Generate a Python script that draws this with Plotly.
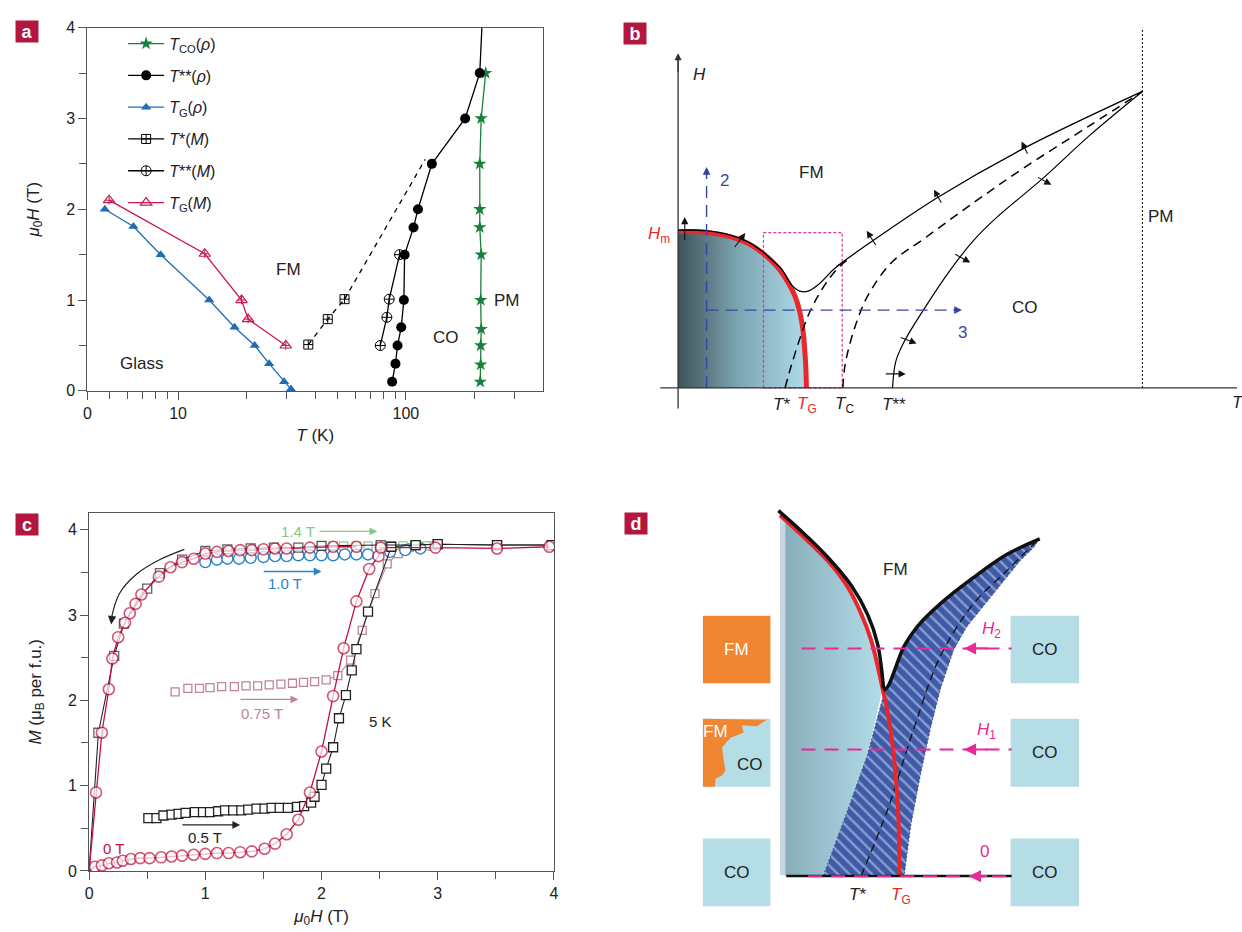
import numpy as np
import plotly.graph_objects as go

W, H = 1242, 932
FONT = "Liberation Sans Narrow, Arial Narrow, Liberation Sans, Arial, sans-serif"
CRIMSON = "#b3173f"

# ------------------------------------------------------------------ panel a data (T in K, mu0H in T)
a_tco_T = [224, 214, 211, 211, 211, 214, 213, 214, 213, 213, 212]
a_tco_H = [3.5, 3.0, 2.5, 2.0, 1.8, 1.5, 1.0, 0.68, 0.5, 0.29, 0.1]
a_tss_rho_T = [87, 90, 91.9, 95.4, 98, 98.7, 108, 113, 130, 182, 211]
a_tss_rho_H = [0.1, 0.3, 0.5, 0.7, 1.0, 1.5, 1.8, 2.0, 2.5, 3.0, 3.5]
a_tss_rho_ext_T = [211, 216]
a_tss_rho_ext_H = [3.5, 4.05]
a_tg_rho_T = [4.77, 6.37, 8.39, 13.7, 17.7, 21.7, 25.1, 29.2, 31.3]
a_tg_rho_H = [2.0, 1.81, 1.5, 1.0, 0.7, 0.5, 0.3, 0.1, 0.02]
a_ts_m_T = [37.3, 45.4, 53.8]
a_ts_m_H = [0.51, 0.79, 1.01]
a_ts_m_ext_T = [53.8, 121.6]
a_ts_m_ext_H = [1.01, 2.55]
a_tss_m_T = [77.2, 82.5, 84.5, 93.8]
a_tss_m_H = [0.5, 0.81, 1.01, 1.5]
a_tg_m_T = [4.98, 13.1, 19.0, 20.3, 29.7]
a_tg_m_H = [2.1, 1.51, 1.0, 0.79, 0.5]
a_xtick_vals = [4, 10, 100]
a_xtick_text = ["0", "10", "100"]
a_xminor_vals = [5, 6, 7, 8, 9, 20, 30, 40, 50, 60, 70, 80, 90, 200, 300]
a_region_labels = ["FM", "CO", "PM", "Glass"]
a_region_T = [30.5, 150, 277, 6.9]
a_region_H = [1.34, 0.59, 1.0, 0.30]

# ------------------------------------------------------------------ panel b schematic (arbitrary T, H units)
b_red_T = [0, 27.7, 54.3, 71, 87.7, 101, 111, 117.7, 122.7, 126, 127.7, 128.7, 129.3]
b_red_H = [159.3, 158.7, 153.7, 147, 135.3, 122, 107, 93.7, 77, 57, 37, 20.3, 0]
b_up_T = [0, 27.7, 54.3, 71, 87.7, 96, 104.3, 114.3, 122.7, 131, 141, 157.7, 171, 191, 261, 347.7, 467.7]
b_up_H = [160.8, 160.2, 155.2, 148.5, 136.8, 129, 121, 105, 98.5, 98.5, 105, 121.7, 132, 146.3, 193.7, 243.7, 302]
b_tstar_T = [107.7, 114.3, 122.7, 131, 141, 152.7, 164.3, 175]
b_tstar_H = [0, 23.7, 50.3, 73.7, 93.7, 112, 125.3, 133.5]
b_tc_T = [166, 167.7, 172.7, 181, 191, 214.3, 247.7, 297.7, 347.7, 414.3, 467.7]
b_tc_H = [0, 20.3, 43.7, 70.3, 93.7, 127, 152, 188.7, 223.7, 267, 302]
b_tss_T = [216, 219.3, 227.7, 247.7, 274.3, 297.7, 321, 367.7, 414.3, 467.7]
b_tss_H = [0, 27, 47, 80.3, 120.3, 150.3, 173.7, 213.7, 257, 302]
b_pm_T = 467.7
b_box_T = [86, 165.3]
b_box_H = [0, 158.3]
b_path2_T = 28.7
b_path3_H = 79.3
b_path2_top = 225
b_path3_end = 286
# small arrows: tail (T,H) -> head (T,H)
b_arrow_tail_T = [6.7, 56, 200, 266, 352.7, 361, 277.7, 222.7, 207.7]
b_arrow_tail_H = [149, 142, 144, 187, 237, 215.3, 137, 52, 14.3]
b_arrow_head_T = [6.7, 67.7, 190, 257.7, 346, 376, 294.3, 240.3, 229.3]
b_arrow_head_H = [174, 157.7, 160, 202, 251, 207, 127.7, 45.3, 14.3]
b_tick_T = [103.7, 130.3, 167.7, 217.7]
b_tick_text = ["<i>T</i>*", "<i>T</i><sub>G</sub>", "<i>T</i><sub>C</sub>", "<i>T</i>**"]

# ------------------------------------------------------------------ panel c data (mu0H in T, M in muB per f.u.)
c_blk_up_H = [0.51, 0.58, 0.64, 0.71, 0.77, 0.83, 0.91, 0.98, 1.04, 1.11, 1.17, 1.24, 1.31, 1.37, 1.44, 1.51,
              1.57, 1.64, 1.71, 1.79, 1.85, 1.91, 1.94, 2.00, 2.04, 2.10, 2.15, 2.21, 2.26, 2.30, 2.40, 2.60,
              2.81, 3.00, 3.51, 3.98]
c_blk_up_M = [0.62, 0.62, 0.65, 0.66, 0.67, 0.68, 0.69, 0.69, 0.69, 0.70, 0.71, 0.71, 0.71, 0.72, 0.73, 0.73,
              0.74, 0.74, 0.74, 0.75, 0.76, 0.80, 0.87, 1.01, 1.20, 1.45, 1.79, 2.06, 2.35, 2.60, 3.04, 3.80,
              3.82, 3.83, 3.82, 3.82]
c_blk_dn_H = [3.98, 3.51, 3.00, 2.81, 2.51, 2.00, 1.80, 1.59, 1.39, 1.19, 1.00, 0.80, 0.61, 0.50, 0.30, 0.216,
              0.08, 0.0]
c_blk_dn_M = [3.82, 3.82, 3.83, 3.82, 3.82, 3.81, 3.79, 3.79, 3.78, 3.77, 3.75, 3.65, 3.49, 3.31, 2.90, 2.52,
              1.62, 0.0]
c_red_up_H = [0.0, 0.05, 0.11, 0.17, 0.24, 0.29, 0.36, 0.44, 0.52, 0.62, 0.71, 0.80, 0.90, 1.00, 1.10, 1.20,
              1.30, 1.40, 1.51, 1.60, 1.70, 1.80, 1.90, 2.00, 2.10, 2.19, 2.30, 2.41, 2.49, 2.51, 2.98, 3.51,
              3.96]
c_red_up_M = [0.0, 0.05, 0.065, 0.09, 0.10, 0.12, 0.14, 0.15, 0.15, 0.16, 0.17, 0.18, 0.19, 0.20, 0.21, 0.21,
              0.22, 0.23, 0.26, 0.32, 0.43, 0.60, 0.92, 1.40, 2.05, 2.61, 3.16, 3.54, 3.69, 3.79, 3.79, 3.78,
              3.80]
c_red_dn_H = [2.30, 2.10, 1.90, 1.70, 1.60, 1.50, 1.40, 1.30, 1.20, 1.10, 1.00, 0.90, 0.80, 0.70, 0.60, 0.45,
              0.40, 0.35, 0.31, 0.25, 0.20, 0.17, 0.11, 0.06, 0.0]
c_red_dn_M = [3.80, 3.80, 3.79, 3.78, 3.78, 3.77, 3.76, 3.76, 3.75, 3.74, 3.72, 3.66, 3.62, 3.56, 3.45, 3.24,
              3.13, 3.02, 2.91, 2.74, 2.49, 2.13, 1.62, 0.92, 0.0]
c_blue_H = [1.00, 1.10, 1.19, 1.29, 1.39, 1.50, 1.60, 1.70, 1.80, 1.90, 2.00, 2.10, 2.20, 2.30, 2.40, 2.59,
            2.72, 2.85]
c_blue_M = [3.62, 3.65, 3.66, 3.66, 3.67, 3.68, 3.69, 3.69, 3.70, 3.70, 3.70, 3.70, 3.71, 3.71, 3.71, 3.74,
            3.76, 3.78]
c_pink_flat_H = [0.74, 0.85, 0.95, 1.04, 1.14, 1.25, 1.35, 1.45, 1.55, 1.65, 1.75, 1.845, 1.94]
c_pink_flat_M = [2.10, 2.14, 2.14, 2.15, 2.16, 2.16, 2.17, 2.17, 2.18, 2.19, 2.20, 2.21, 2.22]
c_pink_rise_H = [2.04, 2.14, 2.25, 2.35, 2.46, 2.565, 2.66, 2.755, 2.855, 2.95]
c_pink_rise_M = [2.24, 2.29, 2.47, 2.82, 3.25, 3.60, 3.72, 3.79, 3.80, 3.81]
c_green_H = [2.00, 2.10, 2.19, 2.30, 2.40, 2.50, 2.60, 2.70, 2.80, 2.90]
c_green_M = [3.81, 3.81, 3.81, 3.81, 3.81, 3.81, 3.81, 3.81, 3.81, 3.81]
c_curve_arrow_H = [0.82, 0.61, 0.41, 0.26, 0.19]
c_curve_arrow_M = [3.77, 3.65, 3.48, 3.25, 2.95]

# ------------------------------------------------------------------ panel d schematic (arbitrary T, H units)
d_red_T = [-5.3, 16.3, 43, 63, 76.3, 86.3, 93, 98, 103, 108, 111.3, 113.7, 115]
d_red_H = [367.3, 347.3, 320.7, 294, 267.3, 240.7, 214, 190.7, 167.3, 134, 100.7, 67.3, 0]
d_shade_T = [0, 0, 16.3, 43, 63, 76.3, 86.3, 93, 98, 83, 63, 38, 38]
d_shade_H = [0, 360, 347.3, 320.7, 294, 267.3, 240.7, 214, 190.7, 124, 67.3, 1, 0]
d_black_T = [-7, 16.3, 43, 66.3, 83, 93, 99, 103, 119.7, 133, 156.3, 189.7, 223, 256.3]
d_black_H = [370, 349, 322.3, 294, 264, 234, 189, 192.3, 234, 254, 277.3, 304, 327.3, 343.3]
d_hatch_T = [38, 63, 83, 99.7, 103, 119.7, 133, 156.3, 189.7, 223, 256.3, 249.7, 236.3, 209.7, 183, 169.7,
             156.3, 146.3, 136.3, 126.3, 119.7]
d_hatch_H = [0, 67.3, 124, 187.3, 192.3, 234, 254, 277.3, 304, 327.3, 343.3, 334, 320.7, 287.3, 254, 230.7,
             190.7, 150.7, 104, 50.7, 0]
d_dash_T = [76.3, 103, 129.7, 156.3, 189.7, 223, 253]
d_dash_H = [0, 67.3, 150.7, 224, 277.3, 310.7, 340.7]
d_field_H = [231.7, 128.7, -0.3]
d_field_label = ["<i>H</i><sub>2</sub>", "<i>H</i><sub>1</sub>", "0"]
d_box_left_T = [-83, -15]
d_box_right_T = [227, 296]
d_box_rows_H = [[196.3, 265], [90.7, 160], [-31, 38]]
d_blob_T = [-83, -18.7, -28.7, -43.7, -42, -55.3, -63.7, -62, -60.3, -63.7, -70.3, -71, -83]
d_blob_H = [160, 159, 152.3, 153.3, 145.7, 140.7, 130.7, 117.3, 107.3, 102.3, 99, 90.7, 90.7]

# ================================================================== figure
fig = go.Figure()

def px2paper_x(p):
    return p / W

def px2paper_y(p):
    return 1 - p / H

# ---------------- panel a traces
lw = 1.3
fig.add_trace(go.Scatter(x=a_tco_T, y=a_tco_H, mode="lines+markers", name="<i>T</i><sub>CO</sub>(<i>ρ</i>)",
                         legendgroup="g1", line=dict(color="#17803a", width=lw),
                         marker=dict(symbol="star", size=10, color="#17803a"), xaxis="x", yaxis="y"))
fig.add_trace(go.Scatter(x=a_tss_rho_ext_T, y=a_tss_rho_ext_H, mode="lines", showlegend=False,
                         line=dict(color="black", width=lw), xaxis="x", yaxis="y"))
fig.add_trace(go.Scatter(x=a_tss_rho_T, y=a_tss_rho_H, mode="lines+markers", name="<i>T</i>**(<i>ρ</i>)",
                         legendgroup="g2", line=dict(color="black", width=lw),
                         marker=dict(symbol="circle", size=10, color="black"), xaxis="x", yaxis="y"))
fig.add_trace(go.Scatter(x=a_tg_rho_T, y=a_tg_rho_H, mode="lines+markers", name="<i>T</i><sub>G</sub>(<i>ρ</i>)",
                         legendgroup="g3", line=dict(color="#1f6db3", width=lw),
                         marker=dict(symbol="triangle-up", size=9, color="#1f6db3"), xaxis="x", yaxis="y"))
fig.add_trace(go.Scatter(x=a_ts_m_ext_T, y=a_ts_m_ext_H, mode="lines", showlegend=False,
                         line=dict(color="black", width=lw, dash="5px,5px"), xaxis="x", yaxis="y"))
fig.add_trace(go.Scatter(x=a_ts_m_T, y=a_ts_m_H, mode="lines+markers", showlegend=False, legendgroup="g4",
                         line=dict(color="black", width=lw, dash="5px,5px"),
                         marker=dict(symbol="square-cross-open", size=9, color="black", line=dict(width=1)),
                         xaxis="x", yaxis="y"))
# legend entry for T*(M) (solid line sample, as in the printed key)
fig.add_trace(go.Scatter(x=[None], y=[None], mode="lines+markers", name="<i>T</i>*(<i>M</i>)",
                         legendgroup="g4", line=dict(color="black", width=lw),
                         marker=dict(symbol="square-cross-open", size=9, color="black", line=dict(width=1)),
                         xaxis="x", yaxis="y"))
fig.add_trace(go.Scatter(x=a_tss_m_T, y=a_tss_m_H, mode="lines+markers", name="<i>T</i>**(<i>M</i>)",
                         legendgroup="g5", line=dict(color="black", width=lw),
                         marker=dict(symbol="circle-cross-open", size=10, color="black", line=dict(width=1)),
                         xaxis="x", yaxis="y"))
fig.add_trace(go.Scatter(x=a_tg_m_T, y=a_tg_m_H, mode="lines+markers", name="<i>T</i><sub>G</sub>(<i>M</i>)",
                         legendgroup="g6", line=dict(color="#c41a4c", width=lw),
                         marker=dict(symbol="triangle-up-open", size=10, color="#c41a4c", line=dict(width=1.2)),
                         xaxis="x", yaxis="y"))
fig.add_trace(go.Scatter(x=a_tg_m_T, y=a_tg_m_H, mode="markers", showlegend=False,
                         marker=dict(symbol="cross-thin", size=6, color="#c41a4c", line=dict(width=1, color="#c41a4c")),
                         xaxis="x", yaxis="y"))

# ---------------- panel b traces
fig.add_trace(go.Scatter(x=[0] + b_red_T, y=[0] + b_red_H, mode="none", fill="toself", showlegend=False,
                         fillgradient=dict(type="horizontal",
                                           colorscale=[[0, "#3e5359"], [0.45, "#7aa3b0"], [1, "#b0dbe8"]]),
                         xaxis="x2", yaxis="y2"))
fig.add_trace(go.Scatter(x=b_box_T + b_box_T[::-1] + [b_box_T[0]],
                         y=[b_box_H[0], b_box_H[0], b_box_H[1], b_box_H[1], b_box_H[0]],
                         mode="lines", showlegend=False, line=dict(color="#e0359b", width=1.2, dash="3px,2px"),
                         xaxis="x2", yaxis="y2"))
fig.add_trace(go.Scatter(x=b_red_T, y=b_red_H, mode="lines", showlegend=False, line_shape="spline",
                         line=dict(color="#e8282c", width=5), xaxis="x2", yaxis="y2"))
fig.add_trace(go.Scatter(x=b_up_T, y=b_up_H, mode="lines", showlegend=False, line_shape="spline",
                         line=dict(color="black", width=1.3), xaxis="x2", yaxis="y2"))
fig.add_trace(go.Scatter(x=b_tstar_T, y=b_tstar_H, mode="lines", showlegend=False, line_shape="spline",
                         line=dict(color="black", width=1.5, dash="9px,6px"), xaxis="x2", yaxis="y2"))
fig.add_trace(go.Scatter(x=b_tc_T, y=b_tc_H, mode="lines", showlegend=False, line_shape="spline",
                         line=dict(color="black", width=1.5, dash="9px,6px"), xaxis="x2", yaxis="y2"))
fig.add_trace(go.Scatter(x=b_tss_T, y=b_tss_H, mode="lines", showlegend=False, line_shape="spline",
                         line=dict(color="black", width=1.2), xaxis="x2", yaxis="y2"))
fig.add_trace(go.Scatter(x=[b_pm_T, b_pm_T], y=[0, 367], mode="lines", showlegend=False,
                         line=dict(color="black", width=1, dash="2px,2px"), xaxis="x2", yaxis="y2"))
fig.add_trace(go.Scatter(x=[b_path2_T, b_path2_T], y=[0, b_path2_top - 6], mode="lines", showlegend=False,
                         line=dict(color="#3a43a6", width=1.4, dash="12px,7px"), xaxis="x2", yaxis="y2"))
fig.add_trace(go.Scatter(x=[b_path2_T, b_path3_end - 6], y=[b_path3_H, b_path3_H], mode="lines", showlegend=False,
                         line=dict(color="#3a43a6", width=1.4, dash="12px,7px"), xaxis="x2", yaxis="y2"))
fig.add_trace(go.Scatter(x=[-18, 563], y=[0, 0], mode="lines", showlegend=False,
                         line=dict(color="#333", width=1.3), xaxis="x2", yaxis="y2"))
fig.add_trace(go.Scatter(x=[0, 0], y=[-21, 335], mode="lines", showlegend=False,
                         line=dict(color="#333", width=1.3), xaxis="x2", yaxis="y2"))

# ---------------- panel c traces
def sizes(n, s, last_zero=False):
    out = [s] * n
    if last_zero:
        out[-1] = 0
    return out

RED = "#c0103f"
fig.add_trace(go.Scatter(x=c_pink_flat_H, y=c_pink_flat_M, mode="markers", showlegend=False,
                         marker=dict(symbol="square", size=8, color="white", line=dict(color="#c08496", width=1.3)),
                         xaxis="x3", yaxis="y3"))
fig.add_trace(go.Scatter(x=c_pink_rise_H, y=c_pink_rise_M, mode="lines+markers", showlegend=False,
                         line=dict(color="#c08496", width=1.1),
                         marker=dict(symbol="square", size=8, color="white", line=dict(color="#c08496", width=1.3)),
                         xaxis="x3", yaxis="y3"))
fig.add_trace(go.Scatter(x=c_green_H, y=c_green_M, mode="markers", showlegend=False,
                         marker=dict(symbol="square", size=8, color="white", line=dict(color="#8fcf8c", width=1.3)),
                         xaxis="x3", yaxis="y3"))
fig.add_trace(go.Scatter(x=c_blue_H, y=c_blue_M, mode="markers", showlegend=False,
                         marker=dict(symbol="circle", size=11, color="white", line=dict(color="#2b82c8", width=1.4)),
                         xaxis="x3", yaxis="y3"))
fig.add_trace(go.Scatter(x=c_blk_up_H, y=c_blk_up_M, mode="lines+markers", showlegend=False,
                         line=dict(color="#222", width=1.1),
                         marker=dict(symbol="square", size=9, color="white", line=dict(color="#222", width=1.3)),
                         xaxis="x3", yaxis="y3"))
fig.add_trace(go.Scatter(x=c_blk_dn_H, y=c_blk_dn_M, mode="lines+markers", showlegend=False,
                         line=dict(color="#222", width=1.1),
                         marker=dict(symbol="square", size=sizes(len(c_blk_dn_H), 9, True), color="white",
                                     line=dict(color="#222", width=1.3)),
                         xaxis="x3", yaxis="y3"))
red_sizes_up = sizes(len(c_red_up_H), 11)
red_sizes_up[0] = 0
fig.add_trace(go.Scatter(x=c_red_up_H, y=c_red_up_M, mode="lines+markers", showlegend=False,
                         line=dict(color=RED, width=1.3),
                         marker=dict(symbol="circle", size=red_sizes_up, color="white",
                                     line=dict(color=RED, width=1.6)),
                         xaxis="x3", yaxis="y3"))
fig.add_trace(go.Scatter(x=c_red_dn_H, y=c_red_dn_M, mode="lines+markers", showlegend=False,
                         line=dict(color=RED, width=1.3),
                         marker=dict(symbol="circle", size=sizes(len(c_red_dn_H), 11, True), color="white",
                                     line=dict(color=RED, width=1.6)),
                         xaxis="x3", yaxis="y3"))
fig.add_trace(go.Scatter(x=c_curve_arrow_H, y=c_curve_arrow_M, mode="lines", showlegend=False, line_shape="spline",
                         line=dict(color="#222", width=1.2), xaxis="x3", yaxis="y3"))

# ---------------- panel d traces
fig.add_trace(go.Scatter(x=d_shade_T, y=d_shade_H, mode="none", fill="toself", showlegend=False,
                         fillgradient=dict(type="horizontal", colorscale=[[0, "#89aebb"], [1, "#b2dde8"]]),
                         xaxis="x4", yaxis="y4"))
fig.add_trace(go.Scatter(x=d_hatch_T, y=d_hatch_H, mode="lines", fill="toself", showlegend=False,
                         line=dict(color="#2c3f78", width=0.8, dash="2px,2px"), fillcolor="#3e5aa8",
                         fillpattern=dict(shape="\\", bgcolor="#3e5aa8", fgcolor="#d6e2f3", size=8, solidity=0.3),
                         xaxis="x4", yaxis="y4"))
fig.add_trace(go.Scatter(x=d_dash_T, y=d_dash_H, mode="lines", showlegend=False, line_shape="spline",
                         line=dict(color="#111", width=1.3, dash="8px,5px"), xaxis="x4", yaxis="y4"))
fig.add_trace(go.Scatter(x=d_red_T, y=d_red_H, mode="lines", showlegend=False, line_shape="spline",
                         line=dict(color="#e8262a", width=4), xaxis="x4", yaxis="y4"))
fig.add_trace(go.Scatter(x=d_black_T[:7], y=[v + 2 for v in d_black_H[:7]], mode="lines", showlegend=False,
                         line_shape="spline", line=dict(color="#111", width=3.5), xaxis="x4", yaxis="y4"))
fig.add_trace(go.Scatter(x=d_black_T[6:], y=d_black_H[6:], mode="lines", showlegend=False,
                         line_shape="spline", line=dict(color="#111", width=3.5), xaxis="x4", yaxis="y4"))
fig.add_trace(go.Scatter(x=[1, 228], y=[0, 0], mode="lines", showlegend=False,
                         line=dict(color="#111", width=2.5), xaxis="x4", yaxis="y4"))
for hv, x0 in zip(d_field_H, [16.3, 16.3, 23]):
    fig.add_trace(go.Scatter(x=[x0, 228], y=[hv, hv], mode="lines", showlegend=False,
                             line=dict(color="#e62a96", width=2, dash="14px,9px"), xaxis="x4", yaxis="y4"))
fig.add_trace(go.Scatter(x=d_blob_T, y=d_blob_H, mode="none", fill="toself", showlegend=False,
                         fillcolor="#f08532", xaxis="x4", yaxis="y4"))

# ---------------- shapes
shapes = []
shapes.append(dict(type="rect", xref="x4", yref="y4", x0=-5.3, x1=0.3, y0=1, y1=364,
                   fillcolor="#c6d7df", line=dict(width=0), layer="below"))
box_fill = ["#f08532", "#b5dde6", "#b5dde6"]
for (y0, y1), fc in zip(d_box_rows_H, box_fill):
    shapes.append(dict(type="rect", xref="x4", yref="y4", x0=d_box_left_T[0], x1=d_box_left_T[1],
                       y0=y0, y1=y1, fillcolor=fc, line=dict(width=0), layer="below"))
    shapes.append(dict(type="rect", xref="x4", yref="y4", x0=d_box_right_T[0], x1=d_box_right_T[1],
                       y0=y0, y1=y1, fillcolor="#b5dde6", line=dict(width=0), layer="below"))

# ---------------- annotations
ann = []
def label_box(letter, x, y):
    ann.append(dict(text=f"<b>{letter}</b>", x=px2paper_x(x), y=px2paper_y(y), xref="paper", yref="paper",
                    xanchor="left", yanchor="top", showarrow=False, bgcolor=CRIMSON, width=22, height=21,
                    borderpad=0, font=dict(color="white", size=18, family="Liberation Sans, Arial, sans-serif")))

label_box("a", 11, 12)
label_box("b", 624, 14)
label_box("c", 11, 514)
label_box("d", 625, 513)

txt = dict(size=17, color="#222", family=FONT)
for lab, t, h in zip(a_region_labels, a_region_T, a_region_H):
    ann.append(dict(text=lab, x=np.log10(t), y=h, xref="x", yref="y", showarrow=False, font=txt))

ann += [
    dict(text="<i>H</i>", x=22, y=319, xref="x2", yref="y2", showarrow=False, font=txt),
    dict(text="<i>H</i><sub>m</sub>", x=-19, y=156, xref="x2", yref="y2", showarrow=False,
         font=dict(size=17, color="#e8282c", family=FONT)),
    dict(text="2", x=47, y=211, xref="x2", yref="y2", showarrow=False, font=dict(size=17, color="#3a43a6", family=FONT)),
    dict(text="3", x=286, y=56, xref="x2", yref="y2", showarrow=False, font=dict(size=17, color="#3a43a6", family=FONT)),
    dict(text="FM", x=134, y=219, xref="x2", yref="y2", showarrow=False, font=txt),
    dict(text="CO", x=349, y=82, xref="x2", yref="y2", showarrow=False, font=txt),
    dict(text="PM", x=486, y=175, xref="x2", yref="y2", showarrow=False, font=txt),
    dict(text="<i>T</i>", x=1235 / W, y=px2paper_y(402), xref="paper", yref="paper", xanchor="left",
         showarrow=False, font=txt),
]
for t, s in zip(b_tick_T, b_tick_text):
    col = "#e8282c" if "G" in s else "#222"
    ann.append(dict(text=s, x=t, y=-17, xref="x2", yref="y2", showarrow=False,
                    font=dict(size=17, color=col, family=FONT)))
for tt, th, ht, hh in zip(b_arrow_tail_T, b_arrow_tail_H, b_arrow_head_T, b_arrow_head_H):
    ann.append(dict(x=ht, y=hh, ax=tt, ay=th, xref="x2", yref="y2", axref="x2", ayref="y2", text="",
                    showarrow=True, arrowhead=2, arrowsize=1.3, arrowwidth=1.1, arrowcolor="#111"))
ann.append(dict(x=0, y=341, ax=0, ay=320, xref="x2", yref="y2", axref="x2", ayref="y2", text="",
                showarrow=True, arrowhead=2, arrowsize=1.2, arrowwidth=1.2, arrowcolor="#333"))
ann.append(dict(x=b_path2_T, y=b_path2_top, ax=b_path2_T, ay=b_path2_top - 10, xref="x2", yref="y2",
                axref="x2", ayref="y2", text="", showarrow=True, arrowhead=2, arrowsize=1.2, arrowwidth=1.3,
                arrowcolor="#3a43a6"))
ann.append(dict(x=b_path3_end, y=b_path3_H, ax=b_path3_end - 10, ay=b_path3_H, xref="x2", yref="y2",
                axref="x2", ayref="y2", text="", showarrow=True, arrowhead=2, arrowsize=1.2, arrowwidth=1.3,
                arrowcolor="#3a43a6"))

ctxt = dict(size=15, family=FONT)
c_labels = [("1.4 T", 1.80, 3.98, "#86c985"), ("1.0 T", 1.69, 3.37, "#2b82c8"), ("0.75 T", 1.49, 1.85, "#c08496"),
            ("0.5 T", 1.00, 0.39, "#222"), ("0 T", 0.21, 0.26, RED), ("5 K", 2.51, 1.75, "#222")]
for s, xh, ym, col in c_labels:
    ann.append(dict(text=s, x=xh, y=ym, xref="x3", yref="y3", showarrow=False, font=dict(color=col, **ctxt)))
c_arrows = [(1.97, 2.48, 3.98, "#86c985"), (1.49, 2.00, 3.51, "#2b82c8"), (1.29, 1.80, 2.01, "#c08496"),
            (0.79, 1.30, 0.54, "#222")]
for x0, x1, ym, col in c_arrows:
    ann.append(dict(x=x1, y=ym, ax=x0, ay=ym, xref="x3", yref="y3", axref="x3", ayref="y3", text="",
                    showarrow=True, arrowhead=2, arrowsize=1.2, arrowwidth=1.3, arrowcolor=col))
ann.append(dict(x=c_curve_arrow_H[-1], y=c_curve_arrow_M[-1] - 0.06, ax=c_curve_arrow_H[-1] + 0.005,
                ay=c_curve_arrow_M[-1], xref="x3", yref="y3", axref="x3", ayref="y3", text="",
                showarrow=True, arrowhead=2, arrowsize=1.4, arrowwidth=1.2, arrowcolor="#222"))

ann.append(dict(text="FM", x=111.3, y=312.3, xref="x4", yref="y4", showarrow=False, font=txt))
ann.append(dict(text="<i>T</i>*", x=72.3, y=-19, xref="x4", yref="y4", showarrow=False, font=txt))
ann.append(dict(text="<i>T</i><sub>G</sub>", x=116.3, y=-21, xref="x4", yref="y4", showarrow=False,
                font=dict(size=17, color="#e8262a", family=FONT)))
for hv, lab, lx in zip(d_field_H, d_field_label, [208, 203, 201]):
    ann.append(dict(text=lab, x=lx, y=hv + 19 if lab != "0" else 25, xref="x4", yref="y4", showarrow=False,
                    font=dict(size=17, color="#e62a96", family=FONT)))
    ann.append(dict(x=180 if lab != "0" else 185, y=hv, ax=205, ay=hv, xref="x4", yref="y4", axref="x4", ayref="y4",
                    text="", showarrow=True, arrowhead=2, arrowsize=1.1, arrowwidth=2.2, arrowcolor="#e62a96"))
mid_l = (d_box_left_T[0] + d_box_left_T[1]) / 2
mid_r = (d_box_right_T[0] + d_box_right_T[1]) / 2
rows_mid = [(a + b) / 2 for a, b in d_box_rows_H]
ann.append(dict(text="FM", x=mid_l, y=rows_mid[0], xref="x4", yref="y4", showarrow=False,
                font=dict(size=17, color="white", family=FONT)))
ann.append(dict(text="FM", x=-70.3, y=146.7, xref="x4", yref="y4", showarrow=False,
                font=dict(size=17, color="white", family=FONT)))
ann.append(dict(text="CO", x=-35.3, y=113.3, xref="x4", yref="y4", showarrow=False, font=txt))
ann.append(dict(text="CO", x=mid_l, y=rows_mid[2], xref="x4", yref="y4", showarrow=False, font=txt))
for ym in rows_mid:
    ann.append(dict(text="CO", x=mid_r, y=ym, xref="x4", yref="y4", showarrow=False, font=txt))

# ---------------- layout
axis_common = dict(showline=True, linecolor="#555", linewidth=1, mirror=True, ticks="outside", ticklen=8,
                   tickcolor="#555", tickfont=dict(size=16, color="#222", family=FONT), showgrid=False,
                   zeroline=False)
fig.update_layout(
    width=W, height=H, margin=dict(l=0, r=0, t=0, b=0), paper_bgcolor="white", plot_bgcolor="rgba(0,0,0,0)",
    font=dict(family=FONT, color="#222"),
    showlegend=True,
    legend=dict(x=px2paper_x(120), y=px2paper_y(19), xanchor="left", yanchor="top", bgcolor="rgba(0,0,0,0)",
                font=dict(size=16, family=FONT, color="#222"), traceorder="grouped", tracegroupgap=8,
                itemwidth=36),
    xaxis=dict(domain=[px2paper_x(84), px2paper_x(543)], type="log", range=[np.log10(4), np.log10(400)],
               tickmode="array", tickvals=a_xtick_vals, ticktext=a_xtick_text,
               minor=dict(tickmode="array", tickvals=a_xminor_vals, ticks="outside", ticklen=7, tickcolor="#555"),
               title=dict(text="<i>T</i> (K)", font=dict(size=17, family=FONT), standoff=8),
               anchor="y", **axis_common),
    yaxis=dict(domain=[px2paper_y(390), px2paper_y(20)], range=[0, 4], dtick=1,
               minor=dict(dtick=0.5, ticks="outside", ticklen=7, tickcolor="#555"),
               title=dict(text="<i>μ</i><sub>0</sub><i>H</i> (T)", font=dict(size=17, family=FONT), standoff=22),
               anchor="x", **axis_common),
    xaxis2=dict(domain=[px2paper_x(630), 1], range=[-49, 563], visible=False, anchor="y2"),
    yaxis2=dict(domain=[px2paper_y(430), 1], range=[-43, 387], visible=False, anchor="x2"),
    xaxis3=dict(domain=[px2paper_x(85.7), px2paper_x(554)], range=[0, 4], dtick=1,
                minor=dict(dtick=0.5, ticks="outside", ticklen=7, tickcolor="#555"),
                title=dict(text="<i>μ</i><sub>0</sub><i>H</i> (T)", font=dict(size=17, family=FONT), standoff=8),
                anchor="y3", **axis_common),
    yaxis3=dict(domain=[px2paper_y(879), px2paper_y(514)], range=[0, 4.2], dtick=1,
                minor=dict(dtick=0.5, ticks="outside", ticklen=7, tickcolor="#555"),
                title=dict(text="<i>M</i> (μ<sub>B</sub> per f.u.)", font=dict(size=17, family=FONT), standoff=22),
                anchor="x3", **axis_common),
    xaxis4=dict(domain=[px2paper_x(690), 1], range=[-97, 455], visible=False, anchor="y4"),
    yaxis4=dict(domain=[0, px2paper_y(500)], range=[-48, 384], visible=False, anchor="x4"),
    shapes=shapes,
    annotations=ann,
)

fig.write_html("out.html", config={"displayModeBar": False},
               post_script="document.body.style.margin='0px';document.body.style.overflow='hidden';")
